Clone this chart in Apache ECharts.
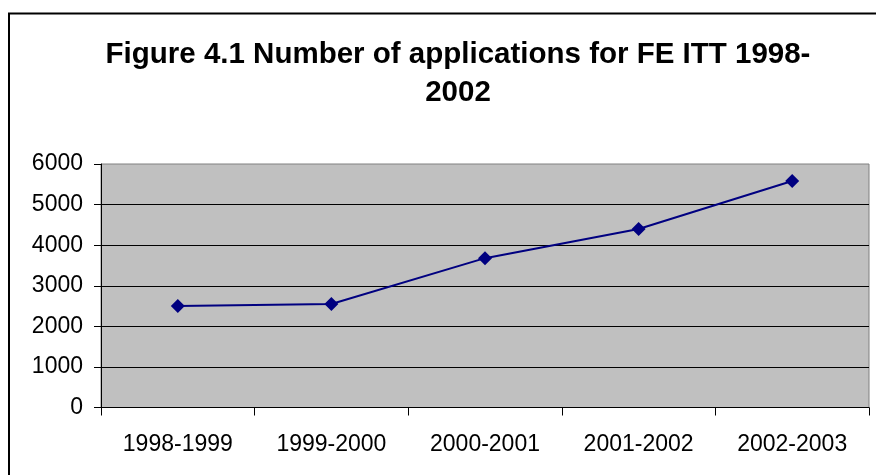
<!DOCTYPE html>
<html>
<head>
<meta charset="utf-8">
<script src="https://cdn.jsdelivr.net/npm/echarts@6/dist/echarts.min.js"></script>
<style>
html,body{margin:0;padding:0;background:#fff;}
#chart{width:876px;height:475px;}
</style>
</head>
<body>
<div id="chart"></div>
<script>
const titleText = 'Figure 4.1 Number of applications for FE ITT 1998-\n2002';
const categories = ['1998-1999', '1999-2000', '2000-2001', '2001-2002', '2002-2003'];
const applications = [2500, 2550, 3680, 4400, 5580];
const yMin = 0, yMax = 6000, yStep = 1000;

const chart = echarts.init(document.getElementById('chart'), null, {renderer: 'canvas'});
const FONT = '"Liberation Sans", Arial, sans-serif';
chart.setOption({
  animation: false,
  backgroundColor: '#ffffff',
  title: {
    text: titleText,
    left: 453,
    top: 31,
    textAlign: 'center',
    textStyle: {fontFamily: FONT, fontWeight: 'bold', fontSize: 29.5, lineHeight: 38, color: '#000'}
  },
  graphic: [{
    type: 'rect', silent: true, z: 100,
    shape: {x: 9, y: 13.5, width: 900, height: 500},
    style: {fill: 'none', stroke: '#000', lineWidth: 2}
  }],
  grid: {
    left: 101, right: 7, top: 164, bottom: 67.5,
    show: true, backgroundColor: '#c0c0c0', borderColor: '#808080', borderWidth: 1
  },
  xAxis: {
    type: 'category', data: categories, boundaryGap: true,
    axisLine: {lineStyle: {color: '#000', width: 1}},
    axisTick: {show: true, length: 8, inside: false, alignWithLabel: false, lineStyle: {color: '#000'}},
    axisLabel: {fontFamily: FONT, fontSize: 23, color: '#000', margin: 26},
    splitLine: {show: false}
  },
  yAxis: {
    type: 'value', min: yMin, max: yMax, interval: yStep,
    axisLine: {show: true, lineStyle: {color: '#000', width: 1}},
    axisTick: {show: true, length: 7, lineStyle: {color: '#000'}},
    axisLabel: {fontFamily: FONT, fontSize: 23, color: '#000', margin: 18, formatter: function (v) { return String(v); }},
    splitLine: {show: true, showMinLine: false, showMaxLine: false, lineStyle: {color: '#000', width: 1}}
  },
  series: [{
    type: 'line', data: applications,
    symbol: 'diamond', symbolSize: 14,
    itemStyle: {color: '#000080'},
    lineStyle: {color: '#000080', width: 2}
  }]
});
</script>
</body>
</html>
